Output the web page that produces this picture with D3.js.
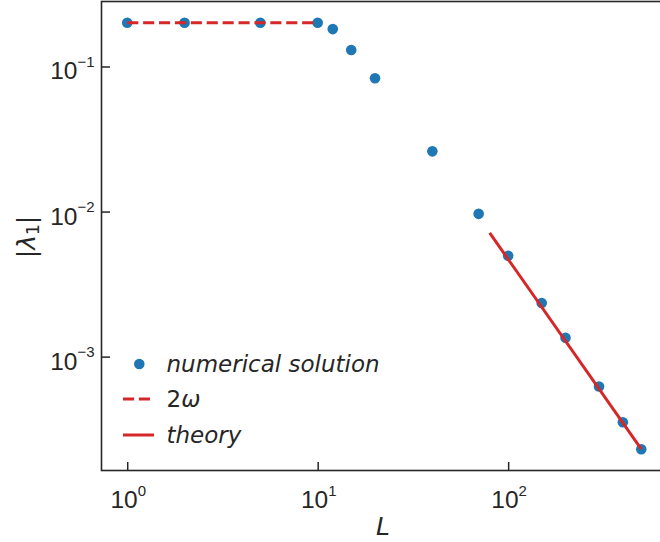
<!DOCTYPE html>
<html>
<head>
<meta charset="utf-8">
<script src="https://cdn.jsdelivr.net/npm/d3@7"></script>
<style>
  html, body { margin: 0; padding: 0; background: #fff; }
  svg { display: block; }
</style>
</head>
<body>
<svg id="chart" width="660" height="542"></svg>
<script>
// ---- data ----
const L = [1, 2, 5, 10, 12, 15, 20, 40, 70, 100, 150, 200, 300, 400, 500];
const lambda1 = [0.2, 0.2, 0.2, 0.2, 0.181, 0.130, 0.083, 0.026, 0.00964, 0.00496, 0.00234, 0.00135, 0.000622, 0.000353, 0.000230];
const omegaL = [1, 10];
const omegaVal = [0.2, 0.2];
const theoryL = [80, 500];
const theoryVal = [0.00713, 0.000230];
const xTickVals = [1, 10, 100];
const xTickExp = ["0", "1", "2"];
const yTickVals = [0.1, 0.01, 0.001];
const yTickExp = ["\u22121", "\u22122", "\u22123"];
const legendLabels = ["numerical solution", "2\u03c9", "theory"];

// ---- layout ----
const svg = d3.select("#chart");
const plotLeft = 101.5, plotRight = 667, plotTop = 1.5, plotBottom = 470.5;
const textColor = "#262626";
const blue = "#1f77b4", red = "#d62728";

const x = d3.scaleLog().domain([Math.pow(10, -0.135), Math.pow(10, 2.834)]).range([plotLeft, plotRight]);
const y = d3.scaleLog().domain([Math.pow(10, -3.785), Math.pow(10, -0.552)]).range([plotBottom, plotTop]);

// axes (ticks inward)
const xAxis = d3.axisBottom(x).tickValues(xTickVals).tickSizeInner(-8.5).tickSizeOuter(0).tickFormat("");
const yAxis = d3.axisLeft(y).tickValues(yTickVals).tickSizeInner(-8.5).tickSizeOuter(0).tickFormat("");

const gx = svg.append("g").attr("transform", `translate(0,${plotBottom})`).call(xAxis);
const gy = svg.append("g").attr("transform", `translate(${plotLeft},0)`).call(yAxis);
[gx, gy].forEach(g => {
  g.select(".domain").remove();
  g.selectAll(".tick line").attr("stroke", textColor).attr("stroke-width", 1.5);
});

// frame
svg.append("rect")
  .attr("x", plotLeft).attr("y", plotTop)
  .attr("width", plotRight - plotLeft).attr("height", plotBottom - plotTop)
  .attr("fill", "none").attr("stroke", textColor).attr("stroke-width", 1.6);

// tick labels
const tickFont = "'Liberation Sans', Arial, sans-serif";
xTickVals.forEach((v, i) => {
  const t = svg.append("text")
    .attr("x", x(v) + 1).attr("y", 508)
    .attr("text-anchor", "middle")
    .attr("font-family", tickFont).attr("font-size", 24.5)
    .attr("fill", textColor);
  t.append("tspan").text("10");
  t.append("tspan").attr("dy", -12).attr("font-size", 15).text(xTickExp[i]);
});
yTickVals.forEach((v, i) => {
  const t = svg.append("text")
    .attr("x", 94.5).attr("y", y(v) + 13)
    .attr("text-anchor", "end")
    .attr("font-family", tickFont).attr("font-size", 24.5)
    .attr("fill", textColor);
  t.append("tspan").text("10");
  t.append("tspan").attr("dy", -12.5).attr("font-size", 15).text(yTickExp[i]);
});

// axis labels
const mathFont = "'DejaVu Sans', sans-serif";
svg.append("text")
  .attr("x", 383).attr("y", 535)
  .attr("text-anchor", "middle")
  .attr("font-family", mathFont).attr("font-style", "italic")
  .attr("font-size", 25).attr("fill", textColor)
  .text("L");

const ylab = svg.append("text")
  .attr("transform", "translate(35,237) rotate(-90)")
  .attr("text-anchor", "middle")
  .attr("font-family", mathFont).attr("font-size", 25).attr("fill", textColor);
ylab.append("tspan").text("|");
ylab.append("tspan").attr("font-style", "italic").text("\u03bb");
ylab.append("tspan").attr("font-size", 17).attr("dy", 4).text("1");
ylab.append("tspan").attr("dy", -4).text("|");

// clip
svg.append("clipPath").attr("id", "clip").append("rect")
  .attr("x", plotLeft).attr("y", plotTop)
  .attr("width", plotRight - plotLeft).attr("height", plotBottom - plotTop);
const plot = svg.append("g").attr("clip-path", "url(#clip)");

// scatter
plot.selectAll("circle.pt").data(L.map((l, i) => [l, lambda1[i]]))
  .enter().append("circle").attr("class", "pt")
  .attr("cx", d => x(d[0])).attr("cy", d => y(d[1]))
  .attr("r", 5.3).attr("fill", blue);

const line = d3.line().x(d => x(d[0])).y(d => y(d[1]));
plot.append("path")
  .attr("d", line(omegaL.map((l, i) => [l, omegaVal[i]])))
  .attr("fill", "none").attr("stroke", red).attr("stroke-width", 3)
  .attr("stroke-dasharray", "11.1 4.8");
plot.append("path")
  .attr("d", line(theoryL.map((l, i) => [l, theoryVal[i]])))
  .attr("fill", "none").attr("stroke", red).attr("stroke-width", 3)
  .attr("stroke-linecap", "butt");

// legend
const leg = svg.append("g");
const rowsY = [364, 399, 435];
leg.append("circle").attr("cx", 139.3).attr("cy", rowsY[0]).attr("r", 5.3).attr("fill", blue);
leg.append("line").attr("x1", 123).attr("x2", 153).attr("y1", rowsY[1]).attr("y2", rowsY[1])
  .attr("stroke", red).attr("stroke-width", 3).attr("stroke-dasharray", "11.1 4.8");
leg.append("line").attr("x1", 123).attr("x2", 154).attr("y1", rowsY[2]).attr("y2", rowsY[2])
  .attr("stroke", red).attr("stroke-width", 3);
legendLabels.forEach((lab, i) => {
  const t = leg.append("text")
    .attr("x", 166.5).attr("y", rowsY[i] + 7.5)
    .attr("font-family", mathFont).attr("font-size", 23)
    .attr("fill", textColor);
  if (i === 1) {
    t.append("tspan").text("2");
    t.append("tspan").attr("font-style", "italic").text("\u03c9");
  } else {
    t.attr("font-style", "italic").text(lab);
  }
});
</script>
</body>
</html>
